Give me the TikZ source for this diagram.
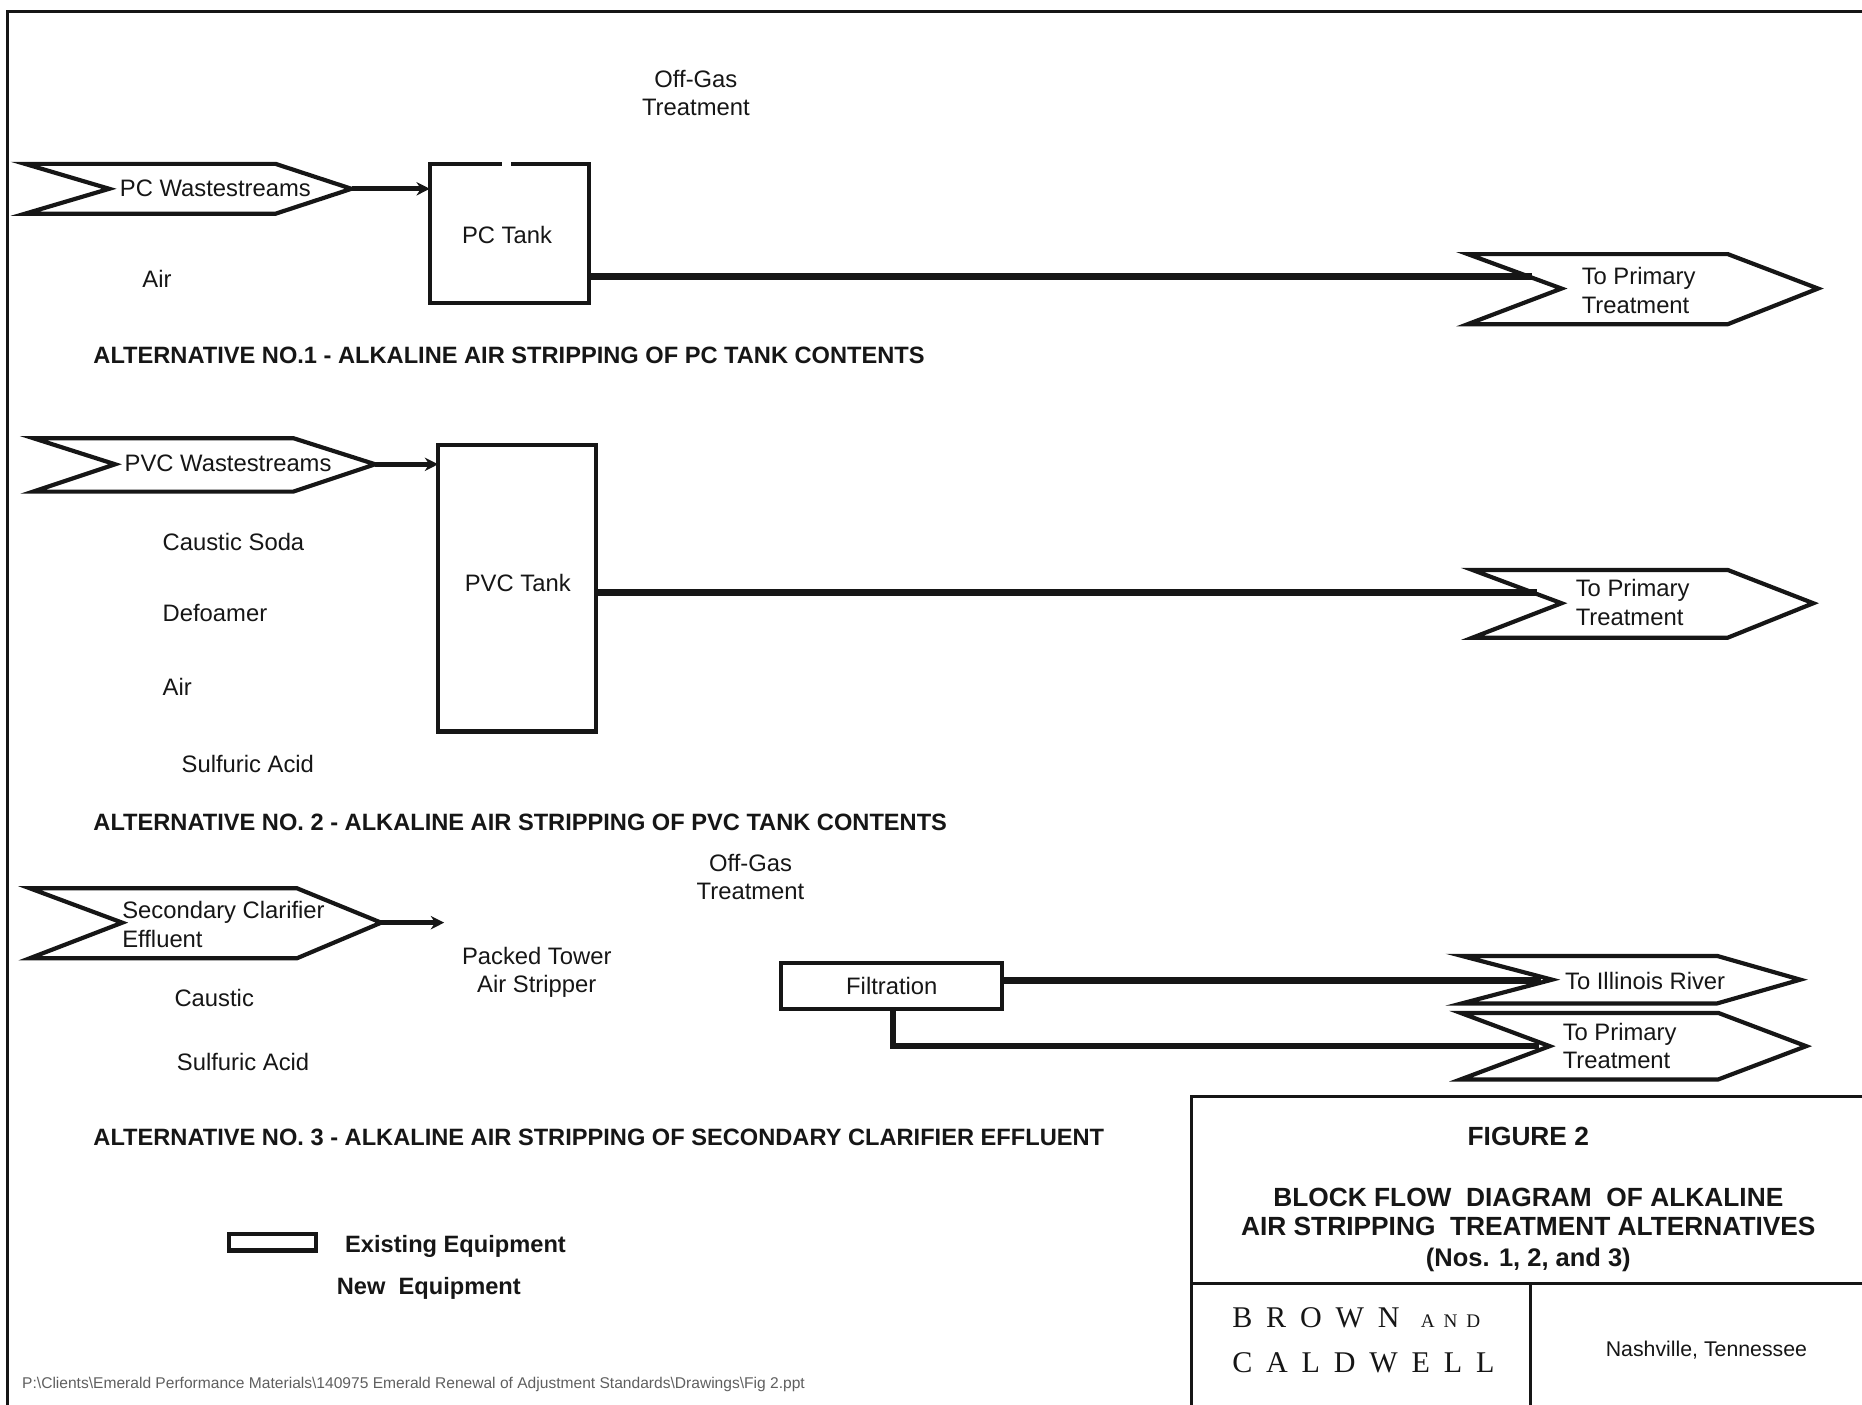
\documentclass[tikz,border=0pt]{standalone}
\usepackage{fontspec}
\setmainfont{Liberation Sans}
\newfontfamily\firmfont[LetterSpace=46]{Liberation Serif}
\usetikzlibrary{arrows.meta,calc}

\begin{document}
\begin{tikzpicture}[x=0.01cm,y=-0.01cm]
  % ----- styles & colors -----
  \definecolor{inkblack}{RGB}{22,22,22}
  \definecolor{pathgray}{RGB}{95,95,95}
  \tikzset{
    chevron/.style={draw=inkblack,fill=white,line width=1pt},
    tank/.style={draw=inkblack,line width=1pt,inner sep=0pt,outer sep=0pt,text=inkblack,font=\fontsize{5.7}{7.3}\selectfont},
    feedline/.style={draw=inkblack,line width=1.1pt,-{Stealth[length=3.2pt,width=3.2pt]}},
    outline/.style={draw=inkblack,line width=1.7pt},
    lbl/.style={inner sep=0pt,outer sep=0pt,text=inkblack,font=\fontsize{5.7}{6.8}\selectfont,align=left},
    head/.style={inner sep=0pt,text=inkblack,anchor=west,font=\bfseries\fontsize{5.66}{7.3}\selectfont},
    block/.style={inner sep=0pt,text=inkblack,font=\bfseries\fontsize{6.3}{7.3}\selectfont}
  }
  \useasboundingbox (0,0) rectangle (1568,1183);

  % ----- frame -----
  \draw[draw=inkblack,line width=0.7pt] (6,1183) -- (6,10) -- (1568,10);

  % ----- the chevrons: name/tail/notch/shoulder/tip/top/mid/bottom -----
  \foreach \N/\a/\b/\c/\d/\t/\m/\e in {
    pcin/21/92/232/296/138/159/180,
    pcout/1236/1315/1455/1531/214/243/273,
    pvcin/28/97/247/316/369/391/414,
    pvcout/1240/1315/1455/1527/480/508/537,
    secin/25/103/250/321/748/777/807,
    river/1231/1307/1446/1516/805/825/845,
    primout/1230/1305/1447/1521/853/881/909}{
    \draw[chevron] (\a,\t) -- (\c,\t) -- (\d,\m) -- (\c,\e) -- (\a,\e) -- (\b,\m) -- cycle;
    \coordinate (\N-tip) at (\d,\m);
  }

  % ----- alternative no. 1 -----
  \node[lbl,anchor=west] (pcinlbl) at (101,158.5) {PC Wastestreams};
  \node[tank,minimum width=1.34cm,minimum height=1.17cm] (pctank) at (429,196.5) {};
  \node[lbl] (pctanklbl) at (427,197.5) {PC Tank};
  \draw[white,line width=2pt] (423,138) -- (430,138);
  \node[lbl,align=center] (gas1) at (586,78.5) {Off-Gas\\Treatment};
  \node[lbl,anchor=west] (air1) at (120,234.5) {Air};
  \node[lbl,anchor=west] (pcoutlbl) at (1332,244.5) {To Primary\\Treatment};
  \node[head] (title1) at (78,299.5) {ALTERNATIVE NO.1 - ALKALINE AIR STRIPPING OF PC TANK CONTENTS};
  \coordinate (pcjoin) at (1290,233);
  \draw[feedline] (pcin-tip) -- (pctank.west |- pcin-tip);
  \draw[outline] (pctank.east |- pcjoin) -- (pcjoin);

  % ----- alternative no. 2 -----
  \node[lbl,anchor=west] (pvcinlbl) at (105,390.5) {PVC Wastestreams};
  \node[tank,minimum width=1.33cm,minimum height=2.41cm] (pvctank) at (435.5,495.5) {};
  \node[lbl] (pvctanklbl) at (436,491) {PVC Tank};
  \node[lbl,anchor=west] (soda) at (137,456.5) {Caustic Soda};
  \node[lbl,anchor=west] (foam) at (137,516.5) {Defoamer};
  \node[lbl,anchor=west] (air2) at (137,578.5) {Air};
  \node[lbl,anchor=west] (acid2) at (153,643) {Sulfuric Acid};
  \node[lbl,anchor=west] (pvcoutlbl) at (1327,507.5) {To Primary\\Treatment};
  \node[head] (title2) at (78,692.5) {ALTERNATIVE NO. 2 - ALKALINE AIR STRIPPING OF PVC TANK CONTENTS};
  \coordinate (pvcjoin) at (1294,499);
  \draw[feedline] (pvcin-tip) -- (pvctank.west |- pvcin-tip);
  \draw[outline] (pvctank.east |- pvcjoin) -- (pvcjoin);

  % ----- alternative no. 3 -----
  \node[lbl,anchor=west] (secinlbl) at (103,778.5) {Secondary Clarifier\\Effluent};
  \coordinate (secend) at (374,777);
  \node[lbl,align=center] (gas3) at (632,738.5) {Off-Gas\\Treatment};
  \node[lbl,align=center] (tower) at (452,819) {Packed Tower\\Air Stripper};
  \node[lbl,anchor=west] (caustic) at (147,840.5) {Caustic};
  \node[lbl,anchor=west] (acid3) at (149,894) {Sulfuric Acid};
  \node[tank,minimum width=1.86cm,minimum height=0.39cm] (filter) at (751,830.5) {Filtration};
  \node[lbl,anchor=west] (riverlbl) at (1318,826) {To Illinois River};
  \node[lbl,anchor=west] (primlbl) at (1316,881) {To Primary\\Treatment};
  \node[head] (title3) at (78,957.5) {ALTERNATIVE NO. 3 - ALKALINE AIR STRIPPING OF SECONDARY CLARIFIER EFFLUENT};
  \coordinate (riverjoin) at (1298,826);
  \coordinate (filterdrop) at (752,881);
  \coordinate (primjoin) at (1296,881);
  \draw[feedline] (secin-tip) -- (secend);
  \draw[outline] (filter.east |- riverjoin) -- (riverjoin);
  \draw[outline,line width=1.3pt] (filter.south -| filterdrop) -- (filterdrop) -- (primjoin);

  % ----- legend -----
  \node[tank,minimum width=0.73cm,minimum height=0.14cm] (existbox) at (229.5,1046) {};
  \node[head] (exist) at (290,1050) {Existing Equipment};
  \node[head] (new) at (283,1085) {New\ \ Equipment};
  \node[inner sep=0pt,anchor=west,text=pathgray,font=\fontsize{3.73}{4}\selectfont] (path) at (18,1166)
    {P:\textbackslash Clients\textbackslash Emerald Performance Materials\textbackslash 140975 Emerald Renewal of Adjustment Standards\textbackslash Drawings\textbackslash Fig 2.ppt};

  % ----- title block -----
  \draw[draw=inkblack,line width=0.7pt] (1003,1183) -- (1003,923) -- (1568,923);
  \draw[draw=inkblack,line width=0.8pt] (1003,1081) -- (1568,1081);
  \draw[draw=inkblack,line width=0.7pt] (1289,1081) -- (1289,1183);
  \node[block] (figno) at (1287,957) {FIGURE 2};
  \node[block] (blk1) at (1287,1008) {BLOCK FLOW\ \ DIAGRAM\ \ OF ALKALINE};
  \node[block] (blk2) at (1287,1033) {AIR STRIPPING\ \ TREATMENT ALTERNATIVES};
  \node[block,font=\bfseries\fontsize{6.1}{7.3}\selectfont] (blk3) at (1287,1061) {(Nos. 1, 2, and 3)};
  \node[inner sep=0pt,anchor=west,text=inkblack,font=\firmfont\fontsize{7.2}{8}\selectfont] (firm1) at (1037,1110) {BROWN {\fontsize{4.6}{5}\selectfont AND}};
  \node[inner sep=0pt,anchor=west,text=inkblack,font=\firmfont\fontsize{7.2}{8}\selectfont] (firm2) at (1037,1148) {CALDWELL};
  \node[lbl,align=center,font=\fontsize{5.1}{6}\selectfont] (city) at (1437,1137) {Nashville, Tennessee};
\end{tikzpicture}
\end{document}
